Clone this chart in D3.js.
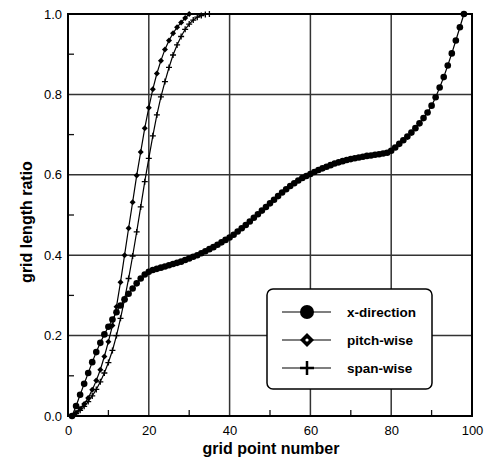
<!DOCTYPE html>
<html><head><meta charset="utf-8">
<script src="https://cdn.jsdelivr.net/npm/d3@7"></script>
<style>body{margin:0;background:#fff}svg{display:block}</style>
</head><body>
<svg id="c" width="487" height="459"></svg>
<script>
const xTicks = [0, 20, 40, 60, 80, 100];
const yTicks = [0.0, 0.2, 0.4, 0.6, 0.8, 1.0];
const xMinor = [10, 30, 50, 70, 90];
const yMinor = [0.1, 0.3, 0.5, 0.7, 0.9];
const seriesNames = ["x-direction", "pitch-wise", "span-wise"];
// values at grid points 1, 2, 3, ...
const xDirection = [0.000,0.025,0.053,0.080,0.107,0.134,0.159,0.182,0.203,0.222,
  0.240,0.258,0.275,0.290,0.304,0.317,0.330,0.342,0.352,0.359,
  0.363,0.366,0.369,0.372,0.375,0.378,0.381,0.384,0.388,0.392,
  0.396,0.400,0.405,0.410,0.415,0.420,0.426,0.432,0.438,0.444,
  0.451,0.459,0.467,0.475,0.484,0.493,0.502,0.511,0.520,0.529,
  0.538,0.547,0.556,0.564,0.572,0.579,0.586,0.592,0.597,0.602,
  0.607,0.612,0.616,0.620,0.624,0.628,0.631,0.634,0.637,0.639,
  0.641,0.643,0.645,0.647,0.648,0.650,0.651,0.653,0.655,0.660,
  0.668,0.677,0.686,0.695,0.705,0.716,0.728,0.741,0.755,0.772,
  0.793,0.817,0.843,0.872,0.902,0.934,0.967,1.000];
const pitchWise = [0.000,0.008,0.018,0.030,0.045,0.065,0.088,0.115,0.148,0.185,
  0.225,0.272,0.333,0.400,0.467,0.532,0.598,0.657,0.716,0.767,
  0.813,0.852,0.884,0.912,0.934,0.952,0.967,0.979,0.990,1.000];
const spanWise = [0.000,0.006,0.014,0.024,0.036,0.050,0.066,0.085,0.107,0.133,
  0.163,0.200,0.243,0.290,0.342,0.398,0.458,0.520,0.583,0.641,
  0.697,0.749,0.794,0.832,0.867,0.898,0.923,0.944,0.962,0.975,
  0.985,0.992,0.996,0.999,1.000];

const svg = d3.select("#c");
const m = {l: 68, t: 14, w: 404, h: 402};
const x = d3.scaleLinear().domain([0, 100]).range([m.l, m.l + m.w]);
const y = d3.scaleLinear().domain([0, 1]).range([m.t + m.h, m.t]);
const font = "'Liberation Sans', Arial, sans-serif";

// grid
const g = svg.append("g");
g.selectAll(".gx").data(xTicks.slice(1, -1)).join("line")
  .attr("x1", d => x(d)).attr("x2", d => x(d)).attr("y1", y(0)).attr("y2", y(1))
  .attr("stroke", "#333").attr("stroke-width", 1.5);
g.selectAll(".gy").data(yTicks.slice(1, -1)).join("line")
  .attr("y1", d => y(d)).attr("y2", d => y(d)).attr("x1", x(0)).attr("x2", x(100))
  .attr("stroke", "#333").attr("stroke-width", 1.5);
// minor ticks
g.selectAll(".mx").data(xMinor).join("line")
  .attr("x1", d => x(d)).attr("x2", d => x(d)).attr("y1", y(0)).attr("y2", y(0) - 6)
  .attr("stroke", "#111").attr("stroke-width", 1.3);
g.selectAll(".my").data(yMinor).join("line")
  .attr("y1", d => y(d)).attr("y2", d => y(d)).attr("x1", x(0)).attr("x2", x(0) + 6)
  .attr("stroke", "#111").attr("stroke-width", 1.3);
// frame
g.append("rect").attr("x", x(0)).attr("y", y(1)).attr("width", m.w).attr("height", m.h)
  .attr("fill", "none").attr("stroke", "#000").attr("stroke-width", 2);

// axes labels
const xAxis = d3.axisBottom(x).tickValues(xTicks).tickSize(0).tickPadding(10).tickFormat(d3.format("d"));
const ax = svg.append("g").attr("transform", `translate(0,${y(0)})`).call(xAxis);
ax.select(".domain").remove();
ax.selectAll("text").attr("font-family", font).attr("font-size", 13).attr("fill", "#000");
const yAxis = d3.axisLeft(y).tickValues(yTicks).tickSize(0).tickPadding(6).tickFormat(d3.format(".1f"));
const ay = svg.append("g").attr("transform", `translate(${x(0)},0)`).call(yAxis);
ay.select(".domain").remove();
ay.selectAll("text").attr("font-family", font).attr("font-size", 13).attr("fill", "#000");

svg.append("text").attr("x", 271).attr("y", 454).attr("text-anchor", "middle")
  .attr("font-family", font).attr("font-weight", "bold").attr("font-size", 16).text("grid point number");
svg.append("text").attr("transform", "translate(32,222) rotate(-90)").attr("text-anchor", "middle")
  .attr("font-family", font).attr("font-weight", "bold").attr("font-size", 16).text("grid length ratio");

const line = d3.line().x((d, i) => x(i + 1)).y(d => y(d));
const plot = svg.append("g");
function series(arr) {
  plot.append("path").attr("d", line(arr)).attr("fill", "none").attr("stroke", "#000").attr("stroke-width", 1.2);
}
series(spanWise); series(pitchWise); series(xDirection);

const sym = {
  circle: (sel, s) => sel.append("circle").attr("r", s).attr("fill", "#000"),
  diamond: (sel, s) => sel.append("path").attr("d", `M0,${-s}L${s},0L0,${s}L${-s},0Z`).attr("fill", "#000"),
  plus: (sel, s, w) => sel.append("path").attr("d", `M${-s},0H${s}M0,${-s}V${s}`).attr("stroke", "#000").attr("stroke-width", w).attr("fill", "none")
};
function markers(arr, kind, s, w) {
  arr.forEach((d, i) => {
    const gg = plot.append("g").attr("transform", `translate(${x(i + 1)},${y(d)})`);
    sym[kind](gg, s, w);
  });
}
markers(spanWise, "plus", 3, 1.3);
markers(pitchWise, "diamond", 3);
markers(xDirection, "circle", 3.3);

// legend
const lg = svg.append("g");
lg.append("rect").attr("x", 267).attr("y", 289).attr("width", 165).attr("height", 100).attr("rx", 6)
  .attr("fill", "#fff").attr("stroke", "#000").attr("stroke-width", 1.5);
const rows = [312, 340, 368];
const kinds = ["circle", "diamond", "plus"];
seriesNames.forEach((n, i) => {
  lg.append("line").attr("x1", 282).attr("x2", 331).attr("y1", rows[i]).attr("y2", rows[i]).attr("stroke", "#000").attr("stroke-width", 1.2);
  const gg = lg.append("g").attr("transform", `translate(307,${rows[i]})`);
  if (kinds[i] === "circle") sym.circle(gg, 7);
  if (kinds[i] === "diamond") { sym.diamond(gg, 7); gg.append("circle").attr("r", 1.6).attr("fill", "#fff"); }
  if (kinds[i] === "plus") sym.plus(gg, 7, 2.5);
  lg.append("text").attr("x", 347).attr("y", rows[i] + 5).attr("font-family", font).attr("font-weight", "bold")
    .attr("font-size", 13.5).text(n);
});
</script>
</body></html>
